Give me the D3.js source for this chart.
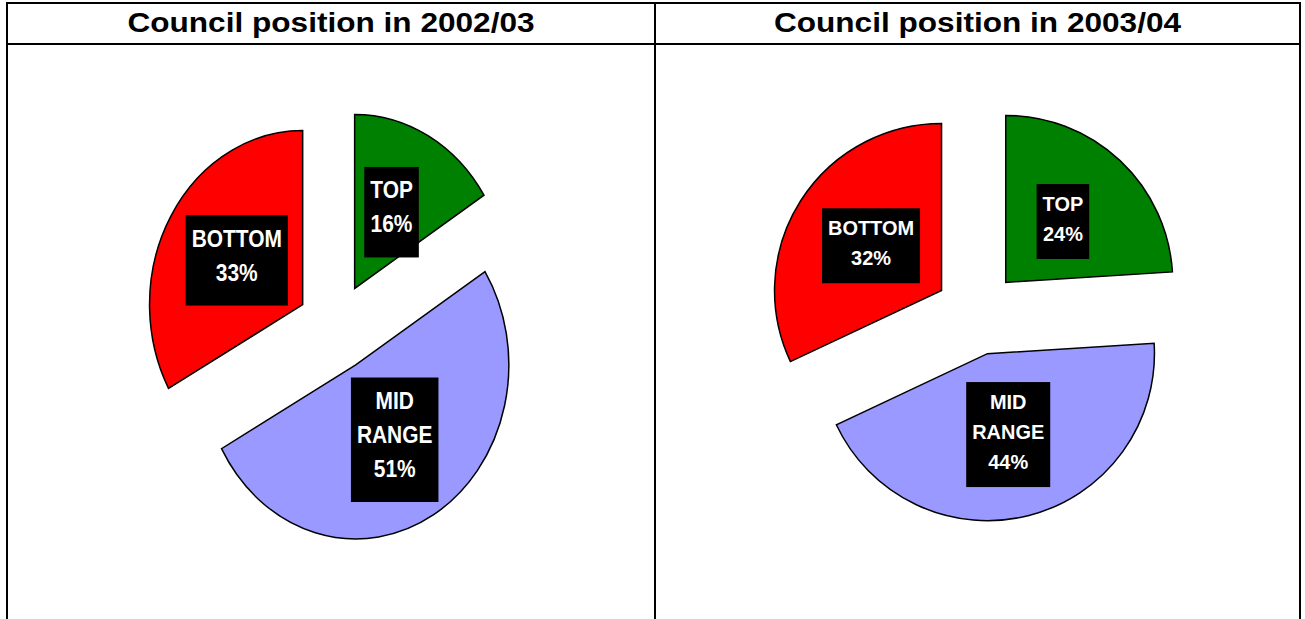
<!DOCTYPE html>
<html lang="en">
<head>
    <meta charset="UTF-8">
    <title>Council position</title>
    <script src="https://d3js.org/d3.v7.min.js"></script>
    <style>
        body {
            margin: 0;
            padding: 0;
            background: #fff;
            font-family: Arial, "Liberation Sans", sans-serif;
        }
        .frame {
            fill: none;
            stroke: #000;
            stroke-width: 2px;
        }
        .slice {
            stroke: #000;
            stroke-width: 1.5px;
            vector-effect: non-scaling-stroke;
        }
        .title {
            font-size: 27px;
            font-weight: bold;
            fill: #000;
        }
        .lbl text {
            font-weight: bold;
            fill: #fff;
        }
    </style>
</head>
<body>
    <svg id="chart" width="1305" height="619"></svg>

    <script>
        // data
        const categories = ["TOP", "MID RANGE", "BOTTOM"];
        const colors = ["#008000", "#9999ff", "#ff0000"];
        const titles = ["Council position in 2002/03", "Council position in 2003/04"];
        const values2002 = [16, 51, 33];
        const values2003 = [24, 44, 32];

        // layout of the two panels (left table cell, right table cell)
        const panels = [
            { values: values2002, title: titles[0], x0: 7, x1: 655, cx: 336, cy: 327, r: 174, sx: 0.88, sy: 1, explode: 44,
              font: 23, fsx: 0.91, cap: 16.5, lineH: 34, padTop: 15, padBottom: 25 },
            { values: values2003, title: titles[1], x0: 655, x1: 1300, cx: 977, cy: 313, r: 167, sx: 1, sy: 1, explode: 42,
              font: 21, fsx: 0.95, cap: 15, lineH: 30, padTop: 12, padBottom: 18 }
        ];

        const svg = d3.select("#chart");

        // table frame
        const frameTop = 3, headBottom = 44, frameBottom = 640;
        svg.append("line").attr("class", "frame").attr("x1", 6).attr("x2", 1301).attr("y1", frameTop).attr("y2", frameTop);
        svg.append("line").attr("class", "frame").attr("x1", 6).attr("x2", 1301).attr("y1", headBottom).attr("y2", headBottom);
        [7, 655, 1300].forEach(x => {
            svg.append("line").attr("class", "frame").attr("x1", x).attr("x2", x).attr("y1", frameTop - 1).attr("y2", frameBottom);
        });

        const pie = d3.pie().sort(null).value(d => d);

        panels.forEach(p => {
            // title is a bit stretched horizontally in the original
            svg.append("text")
                .attr("class", "title")
                .attr("transform", `translate(${(p.x0 + p.x1) / 2},32) scale(1.17,1)`)
                .attr("text-anchor", "middle")
                .text(p.title);

            const arcs = pie(p.values);
            const arc = d3.arc().innerRadius(0).outerRadius(p.r);

            const g = svg.append("g")
                .attr("transform", `translate(${p.cx},${p.cy}) scale(${p.sx},${p.sy})`);

            g.selectAll("path")
                .data(arcs)
                .enter().append("path")
                .attr("class", "slice")
                .attr("fill", (d, i) => colors[i])
                .attr("transform", d => {
                    const a = (d.startAngle + d.endAngle) / 2;
                    return `translate(${p.explode * Math.sin(a)},${-p.explode * Math.cos(a)})`;
                })
                .attr("d", arc);

            // labels: black boxes with white text
            arcs.forEach((d, i) => {
                const a = (d.startAngle + d.endAngle) / 2;
                const rr = p.r * 0.5 + p.explode;
                const lx = p.cx + p.sx * rr * Math.sin(a);
                const ly = p.cy - p.sy * rr * Math.cos(a);
                const lines = categories[i].split(" ").concat([d.data + "%"]);

                const boxH = p.padTop + p.cap + (lines.length - 1) * p.lineH + p.padBottom;
                const y0 = -boxH / 2;

                const lg = svg.append("g").attr("class", "lbl")
                    .attr("transform", `translate(${lx},${ly})`);
                const box = lg.append("rect").attr("fill", "#000");
                const txt = lg.append("text")
                    .attr("text-anchor", "middle")
                    .attr("font-size", p.font)
                    .attr("transform", `scale(${p.fsx},1)`);
                lines.forEach((t, k) => {
                    txt.append("tspan")
                        .attr("x", 0)
                        .attr("y", y0 + p.padTop + p.cap + k * p.lineH)
                        .text(t);
                });
                const w = txt.node().getBBox().width * p.fsx;
                box.attr("x", -w / 2 - 6)
                    .attr("width", w + 12)
                    .attr("y", y0)
                    .attr("height", boxH);
            });
        });
    </script>
</body>
</html>
